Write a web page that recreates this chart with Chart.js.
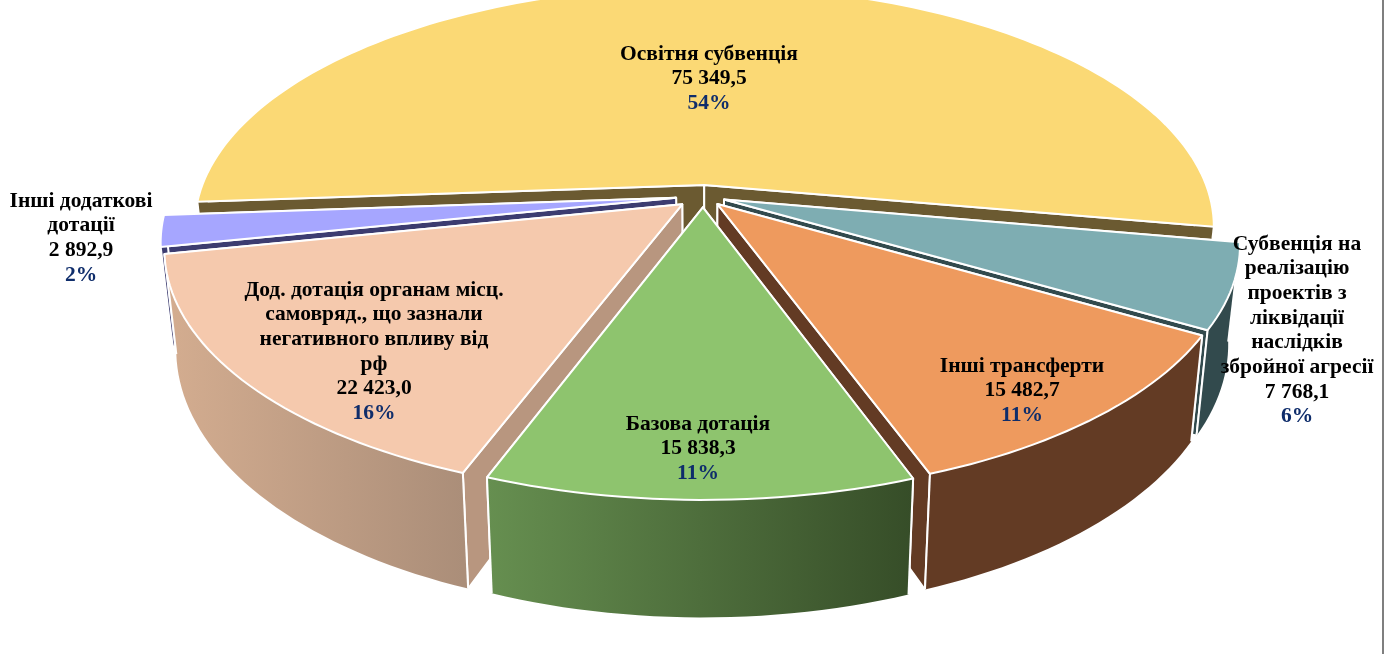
<!DOCTYPE html>
<html>
<head>
<meta charset="utf-8">
<script src="https://cdn.jsdelivr.net/npm/chart.js@4"></script>
<style>
    body { margin: 0; background: #fff; }
    #wrap { position: relative; width: 1392px; height: 654px; overflow: hidden; }
    #edge { position: absolute; left: 1382px; top: 0; width: 2px; height: 654px; background: #7f7f7f; }
</style>
</head>
<body>
<div id="wrap">
    <canvas id="pie" width="1392" height="654"></canvas>
    <div id="edge"></div>
</div>
<script>
// data, clockwise from the left edge of the big slice
const categories = [
    ["Освітня субвенція"],
    ["Субвенція на", "реалізацію", "проектів з", "ліквідації", "наслідків", "збройної агресії"],
    ["Інші трансферти"],
    ["Базова дотація"],
    ["Дод. дотація органам місц.", "самовряд., що зазнали", "негативного впливу від", "рф"],
    ["Інші додаткові", "дотації"]
];
const values = [75349.5, 7768.1, 15482.7, 15838.3, 22423.0, 2892.9];

const topColors = ["#FBD975", "#7EADB2", "#EE9A5E", "#8EC46E", "#F5C9AD", "#A6A6FF"];
const wallColors = [
    ["#6B5A31", "#6B5A31"],
    ["#324A4D", "#324A4D"],
    ["#633B24", "#633B24"],
    ["#668F50", "#364D28"],
    ["#D4AD90", "#AB8E79"],
    ["#3C3C70", "#3C3C70"]
];
const cutColors = ["#6B5A31", "#324A4D", "#633B24", "#4F6F3C", "#B8967F", "#3C3C70"];
const slicesOffset = [15, 14, 14, 15, 17, 17];

// label centre x and y of first line
const labelX = [709, 1297, 1022, 698, 374, 81];
const labelY = [54, 244, 366, 424, 290, 201];
const lineStep = 24.7;

// the perspective the flat pie is seen in
const CX = 703, CY = 196, SX = 506, SY = 237, K = 0.175, DEPTH = 96, SHRINK = 0.022;

function project(u, v, down) {
    const w = 1 - K * v;
    let x = CX + SX * u / w;
    let y = CY + SY * v / w;
    if (down) {
        x = CX + (x - CX) * (1 - SHRINK);
        y += DEPTH / w;
    }
    return [x, y];
}

function tracePoly(ctx, pts) {
    ctx.beginPath();
    pts.forEach((p, i) => i ? ctx.lineTo(p[0], p[1]) : ctx.moveTo(p[0], p[1]));
    ctx.closePath();
}

function drawSlice(ctx, arc, i) {
    const p = arc.getProps(["startAngle", "endAngle", "outerRadius"], true);
    const opt = arc.options;
    const mid = (p.startAngle + p.endAngle) / 2;
    const ox = Math.cos(mid) * opt.offset / p.outerRadius;
    const oy = Math.sin(mid) * opt.offset / p.outerRadius;

    const steps = Math.max(8, Math.round((p.endAngle - p.startAngle) * 40));
    const rim = [];
    for (let s = 0; s <= steps; s++) {
        const a = p.startAngle + (p.endAngle - p.startAngle) * s / steps;
        rim.push([ox + Math.cos(a), oy + Math.sin(a), Math.sin(a) > -0.05]);
    }
    const rimTop = rim.map(q => project(q[0], q[1], false));
    const rimLow = rim.map(q => project(q[0], q[1], true));
    const apexTop = project(ox, oy, false);
    const apexLow = project(ox, oy, true);

    ctx.lineJoin = "round";
    ctx.lineWidth = opt.borderWidth;
    ctx.strokeStyle = opt.borderColor;

    // the two cut faces, the one further back first
    ctx.fillStyle = cutColors[i];
    const ends = rim[0][1] < rim[steps][1] ? [0, steps] : [steps, 0];
    ends.forEach(e => {
        tracePoly(ctx, [apexTop, rimTop[e], rimLow[e], apexLow]);
        ctx.fill();
        ctx.stroke();
    });

    // outer wall, only the runs of the rim that face the viewer
    const xs = rimTop.map(q => q[0]);
    const grad = ctx.createLinearGradient(Math.min(...xs), 0, Math.max(...xs), 0);
    grad.addColorStop(0, wallColors[i][0]);
    grad.addColorStop(1, wallColors[i][1]);
    ctx.fillStyle = grad;
    let run = [];
    for (let s = 0; s <= steps + 1; s++) {
        if (s <= steps && rim[s][2]) {
            run.push(s);
        } else {
            if (run.length > 1) {
                const up = run.map(k => rimTop[k]);
                const low = run.map(k => rimLow[k]).reverse();
                tracePoly(ctx, up.concat(low));
                ctx.fill();
            }
            run = [];
        }
    }
    // white line back on the corners the wall fill went over
    [0, steps].forEach(e => {
        if (!rim[e][2]) return;
        ctx.beginPath();
        ctx.moveTo(rimTop[e][0], rimTop[e][1]);
        ctx.lineTo(rimLow[e][0], rimLow[e][1]);
        ctx.stroke();
    });

    // top face
    ctx.fillStyle = opt.backgroundColor;
    tracePoly(ctx, [apexTop].concat(rimTop));
    ctx.fill();
    ctx.stroke();
}

const pie3d = {
    id: "pie3d",
    beforeDatasetDraw(chart) {
        const arcs = chart.getDatasetMeta(0).data;
        // back to front
        [0, 5, 1, 4, 2, 3].forEach(i => drawSlice(chart.ctx, arcs[i], i));
        return false;
    },
    afterDraw(chart) {
        const ctx = chart.ctx;
        const total = values.reduce((a, b) => a + b, 0);
        ctx.save();
        ctx.font = "bold 21.5px 'Liberation Serif'";
        ctx.textAlign = "center";
        ctx.textBaseline = "middle";
        categories.forEach((lines, i) => {
            let y = labelY[i];
            lines.forEach(t => {
                ctx.fillStyle = "#000";
                ctx.fillText(t, labelX[i], y);
                y += lineStep;
            });
            const txt = values[i].toFixed(1).replace(".", ",").replace(/\B(?=(\d{3})+(?!\d))/g, " ");
            ctx.fillText(txt, labelX[i], y);
            y += lineStep;
            ctx.fillStyle = "#0F2D6B";
            ctx.fillText(Math.round(values[i] / total * 100) + "%", labelX[i], y);
        });
        ctx.restore();
    }
};

new Chart(document.getElementById("pie").getContext("2d"), {
    type: "pie",
    data: {
        labels: categories.map(c => c.join(" ")),
        datasets: [{
            data: values,
            backgroundColor: topColors,
            borderColor: "#fff",
            borderWidth: 2,
            offset: slicesOffset
        }]
    },
    options: {
        responsive: false,
        animation: false,
        rotation: 265.9,
        plugins: { legend: { display: false }, tooltip: { enabled: false } }
    },
    plugins: [pie3d]
});
</script>
</body>
</html>
